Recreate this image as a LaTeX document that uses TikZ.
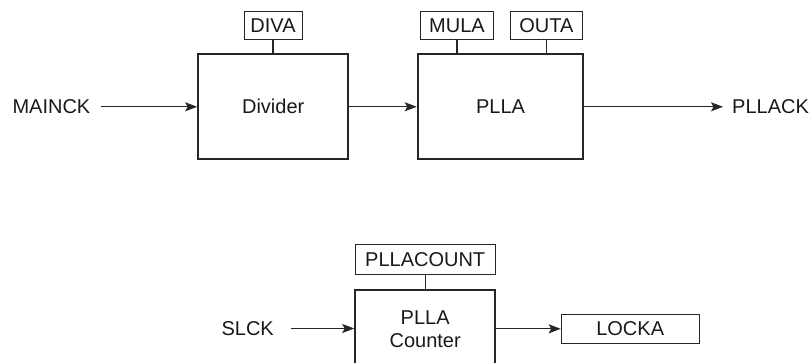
\documentclass[tikz,border=0pt]{standalone}
\usepackage{fontspec}
\setmainfont{Liberation Sans}
\usetikzlibrary{arrows.meta}
\begin{document}
\begin{tikzpicture}[x=1pt,y=-1pt,
  every node/.style={font=\fontsize{20}{24}\selectfont, text=black!90},
  bigbox/.style={draw=black!85, line width=2pt, rectangle, inner sep=0pt, align=center},
  regbox/.style={draw=black!85, line width=1pt, rectangle, inner sep=0pt, minimum height=28pt},
  sig/.style={inner sep=0pt},
  wire/.style={draw=black!85, line width=1.2pt},
  arr/.style={wire, -{Stealth[length=12pt,width=9pt,inset=2.5pt]}}
]
\useasboundingbox (0,0) rectangle (811,363);
\clip (0,0) rectangle (811,363);
% top chain
\node[bigbox, minimum width=150pt, minimum height=105pt] (div) at (273.2,106.8) {Divider};
\node[regbox, minimum width=58pt] (diva) at (273,26) {DIVA};
\node[bigbox, minimum width=165.5pt, minimum height=105pt] (plla) at (500.5,106.8) {PLLA};
\node[regbox, minimum width=73pt] (mula) at (457,26) {MULA};
\node[regbox, minimum width=72.5pt] (outa) at (546.3,26) {OUTA};
\node[sig, anchor=east] (mainck) at (90.5,106.8) {MAINCK};
\node[sig, anchor=west] (pllack) at (732,106.8) {PLLACK};
\coordinate (mainckend) at (101,106.8);
\coordinate (pllackend) at (723,106.8);
\draw[wire] (diva.south) -- (diva.south |- div.north);
\draw[wire] (mula.south) -- (mula.south |- plla.north);
\draw[wire] (outa.south) -- (outa.south |- plla.north);
\draw[arr] (mainckend) -- (div.west);
\draw[arr] (div.east) -- (plla.west);
\draw[arr] (plla.east) -- (pllackend);
% bottom chain
\node[bigbox, minimum width=140pt, minimum height=78pt] (cnt) at (425.2,329) {PLLA\\[-1pt]Counter};
\node[regbox, minimum width=140pt, minimum height=30pt] (pllacount) at (425.2,260) {PLLACOUNT};
\node[regbox, minimum width=138pt, minimum height=29pt] (locka) at (630.2,328.8) {LOCKA};
\node[sig, anchor=east] (slck) at (274,328.5) {SLCK};
\coordinate (slckend) at (290.5,328.5);
\draw[wire] (pllacount.south) -- (cnt.north);
\draw[arr] (slckend) -- (slckend -| cnt.west);
\draw[arr] (cnt.east |- locka.west) -- (locka.west);
\end{tikzpicture}
\end{document}
